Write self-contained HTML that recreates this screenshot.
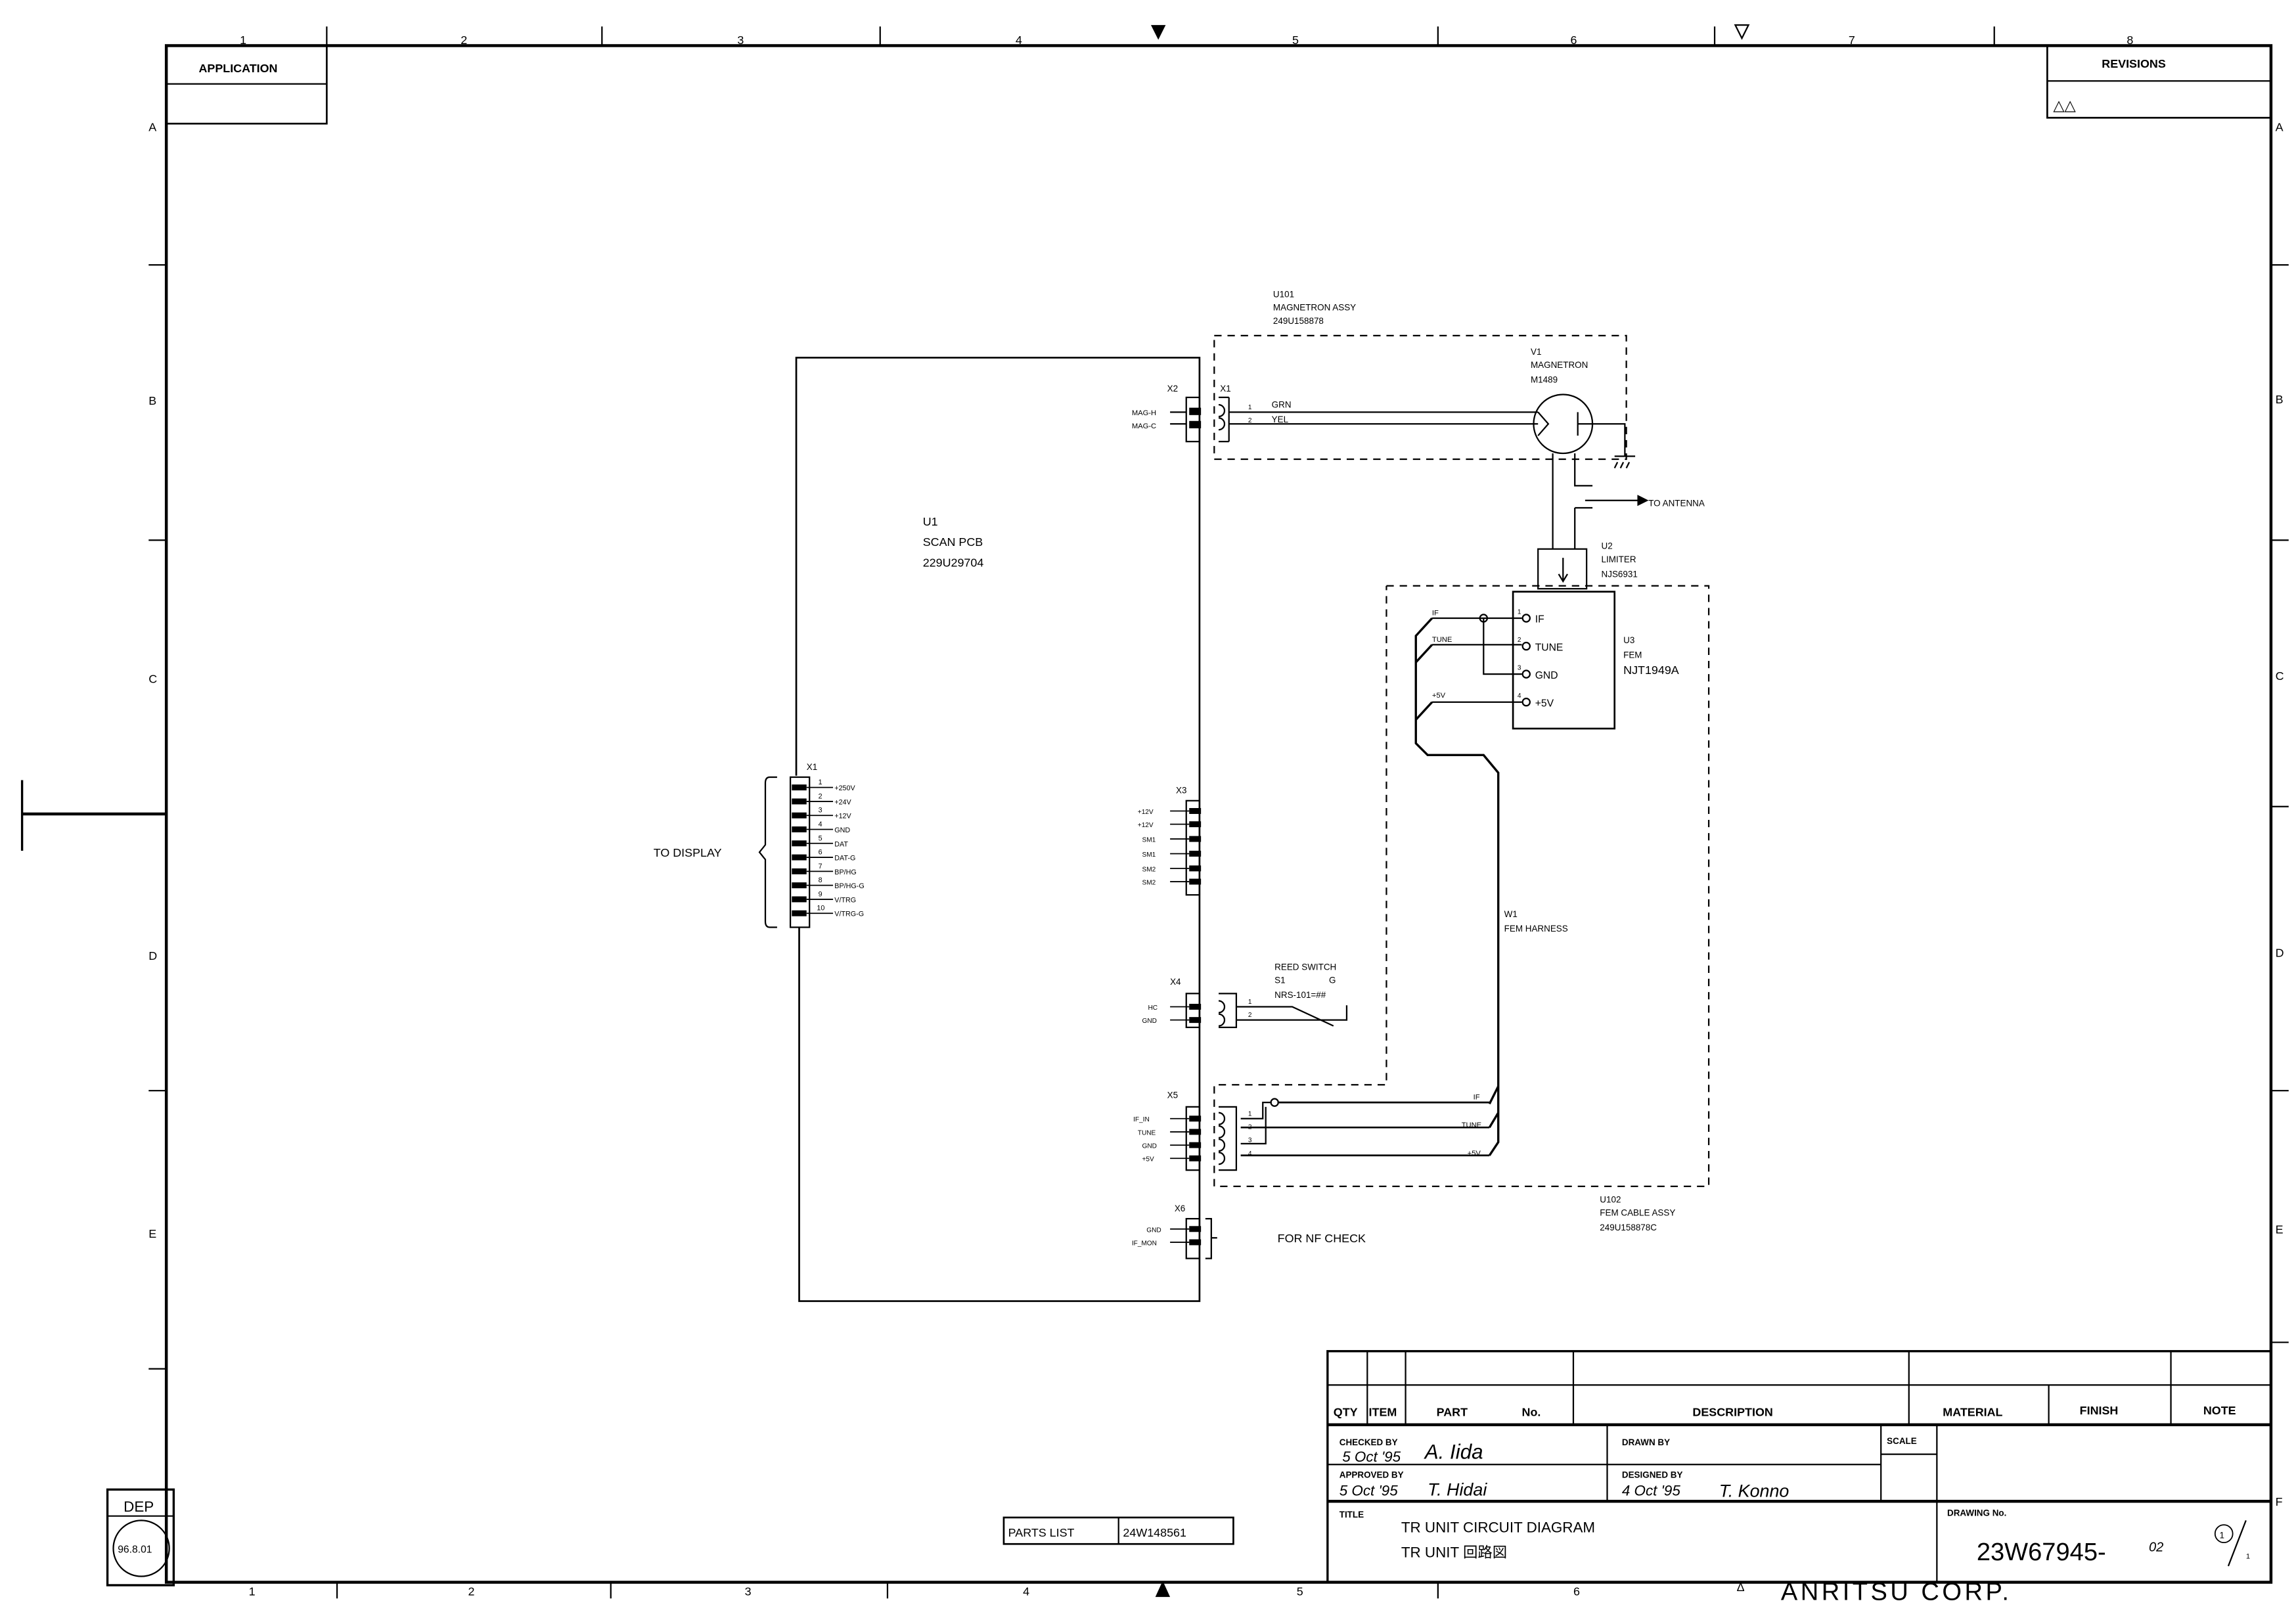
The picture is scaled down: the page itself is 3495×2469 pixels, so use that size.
<!DOCTYPE html>
<html><head><meta charset="utf-8"><style>
html,body{margin:0;padding:0;background:#fff}
svg{display:block}
text{font-family:"Liberation Sans",sans-serif;fill:#000}
.s{font-size:6px}
.m{font-size:8px}
.l{font-size:10px}
.b{font-weight:bold}
</style></head><body>
<svg width="3495" height="2469" viewBox="0 0 1560 1102" preserveAspectRatio="none" xmlns="http://www.w3.org/2000/svg">
<g fill="none" stroke="#000">
<!-- frame -->
<rect x="113" y="31" width="1430" height="1044" stroke-width="2"/>
<line x1="15" y1="553" x2="113" y2="553" stroke-width="2"/>
<line x1="15" y1="530" x2="15" y2="578" stroke-width="1.5"/>
<g stroke-width="1">
<line x1="101" y1="180" x2="113" y2="180"/><line x1="101" y1="367" x2="113" y2="367"/><line x1="101" y1="741" x2="113" y2="741"/><line x1="101" y1="930" x2="113" y2="930"/>
<line x1="1543" y1="180" x2="1555" y2="180"/><line x1="1543" y1="367" x2="1555" y2="367"/><line x1="1543" y1="548" x2="1555" y2="548"/><line x1="1543" y1="741" x2="1555" y2="741"/><line x1="1543" y1="912" x2="1555" y2="912"/>
<line x1="222" y1="18" x2="222" y2="31"/><line x1="409" y1="18" x2="409" y2="31"/><line x1="598" y1="18" x2="598" y2="31"/><line x1="977" y1="18" x2="977" y2="31"/><line x1="1165" y1="18" x2="1165" y2="31"/><line x1="1355" y1="18" x2="1355" y2="31"/>
<line x1="229" y1="1075" x2="229" y2="1086"/><line x1="415" y1="1075" x2="415" y2="1086"/><line x1="603" y1="1075" x2="603" y2="1086"/><line x1="977" y1="1075" x2="977" y2="1086"/>
</g>
<!-- application/revisions -->
<rect x="113" y="31" width="109" height="53" stroke-width="1.2"/><line x1="113" y1="57" x2="222" y2="57"/>
<rect x="1391" y="31" width="152" height="49" stroke-width="1.2"/><line x1="1391" y1="55" x2="1543" y2="55"/>
<!-- DEP -->
<rect x="73" y="1012" width="45" height="65" stroke-width="1.5"/><line x1="73" y1="1030" x2="118" y2="1030"/>
<circle cx="96" cy="1052" r="19"/>

<!-- U1 -->
<polyline points="541,527 541,243 815,243 815,884 543,884 543,630" stroke-width="1.2"/>
<!-- U101 dashed -->
<rect x="825" y="228" width="280" height="84" stroke-dasharray="5,4"/>
<!-- U102 dashed -->
<polyline points="942,398 1161,398 1161,806 825,806 825,737 942,737 942,398" stroke-dasharray="5,4"/>
</g>
<!-- top/bottom triangles -->
<polygon points="782,17 792,17 787,27" fill="#000"/>
<polygon points="1179,17 1188,17 1183.5,26" fill="none" stroke="#000"/>
<polygon points="785,1085 795,1085 790,1074" fill="#000"/>
<!-- text frame -->
<g class="m">
<text x="163" y="30">1</text><text x="313" y="30">2</text><text x="501" y="30">3</text><text x="690" y="30">4</text><text x="878" y="30">5</text><text x="1067" y="30">6</text><text x="1256" y="30">7</text><text x="1445" y="30">8</text>
<text x="169" y="1084">1</text><text x="318" y="1084">2</text><text x="506" y="1084">3</text><text x="695" y="1084">4</text><text x="881" y="1084">5</text><text x="1069" y="1084">6</text>
<text x="101" y="89">A</text><text x="101" y="275">B</text><text x="101" y="464">C</text><text x="101" y="652">D</text><text x="101" y="841">E</text>
<text x="1546" y="89">A</text><text x="1546" y="274">B</text><text x="1546" y="462">C</text><text x="1546" y="650">D</text><text x="1546" y="838">E</text><text x="1546" y="1023">F</text>
</g>
<text x="135" y="49" class="m b">APPLICATION</text>
<text x="1428" y="46" class="m b">REVISIONS</text>
<text x="1395" y="75" class="l">△△</text>
<text x="84" y="1027" class="l">DEP</text>
<text x="80" y="1055" style="font-size:7px">96.8.01</text>
<text x="1180" y="1081" class="m">Δ</text>
<text x="1210" y="1087" style="font-size:17px;letter-spacing:2px">ANRITSU CORP.</text>

<!-- labels -->
<g class="s">
<text x="865" y="202">U101</text><text x="865" y="211">MAGNETRON ASSY</text><text x="865" y="220">249U158878</text>
<text x="1040" y="241">V1</text><text x="1040" y="250">MAGNETRON</text><text x="1040" y="260">M1489</text>
<text x="1088" y="373">U2</text><text x="1088" y="382">LIMITER</text><text x="1088" y="392">NJS6931</text>
<text x="1103" y="437">U3</text><text x="1103" y="447">FEM</text><text x="1103" y="458" style="font-size:8px">NJT1949A</text>
<text x="1022" y="623">W1</text><text x="1022" y="633">FEM HARNESS</text>
<text x="1087" y="817">U102</text><text x="1087" y="826">FEM CABLE ASSY</text><text x="1087" y="836">249U158878C</text>
<text x="866" y="659">REED SWITCH</text><text x="866" y="668">S1</text><text x="903" y="668">G</text><text x="866" y="678">NRS-101=##</text>
<text x="864" y="277">GRN</text><text x="864" y="287">YEL</text>
<text x="1120" y="344">TO ANTENNA</text>
<text x="793" y="266">X2</text><text x="829" y="266">X1</text>
<text x="799" y="539">X3</text><text x="795" y="669">X4</text><text x="793" y="746">X5</text><text x="798" y="823">X6</text><text x="548" y="523">X1</text>
<text x="769" y="282" style="font-size:5px">MAG-H</text><text x="769" y="291" style="font-size:5px">MAG-C</text>
<text x="973" y="418" style="font-size:5px">IF</text><text x="973" y="436" style="font-size:5px">TUNE</text><text x="973" y="474" style="font-size:5px">+5V</text>
<text x="1001" y="747" style="font-size:5px">IF</text><text x="993" y="766" style="font-size:5px">TUNE</text><text x="997" y="785" style="font-size:5px">+5V</text>
</g>
<g class="m">
<text x="627" y="357">U1</text><text x="627" y="371">SCAN PCB</text><text x="627" y="385">229U29704</text>
<text x="444" y="582">TO DISPLAY</text>
<text x="868" y="844">FOR NF CHECK</text>
</g>
<g style="font-size:7px">
<text x="1043" y="423">IF</text><text x="1043" y="442">TUNE</text><text x="1043" y="461">GND</text><text x="1043" y="480">+5V</text>
</g>

<g fill="none" stroke="#000" stroke-width="1">
<!-- X2 -->
<rect x="806" y="270" width="9" height="30"/>
<path d="M828 270 H835 M828 300 H835 M835 270 V300 M828 275 a4 4 0 0 1 0 8 M828 284 a4 4 0 0 1 0 8"/>
<line x1="795" y1="280" x2="806" y2="280"/><line x1="795" y1="288" x2="806" y2="288"/>
<line x1="835" y1="280" x2="1045" y2="280"/><line x1="835" y1="288" x2="1045" y2="288"/>
<!-- magnetron -->
<circle cx="1062" cy="288" r="20"/>
<path d="M1045 280 L1052 288 L1045 296 M1072 280 V296 M1072 288 H1104 V310 M1097 310 H1111 M1099 314 L1097 318 M1103 314 L1101 318 M1107 314 L1105 318"/>
<path d="M1055 308 V373 M1070 308 V330 H1082 M1070 345 V373 M1070 345 H1082"/>
<line x1="1077" y1="340" x2="1113" y2="340"/>
<polygon points="1113,337 1119,340 1113,343" fill="#000"/>
<rect x="1045" y="373" width="33" height="27"/>
<path d="M1062 379 V394 M1059 390 L1062 395 L1065 390"/>
<!-- U3 -->
<rect x="1028" y="402" width="69" height="93" stroke-width="1.2"/>
<circle cx="1037" cy="420" r="2.5"/><circle cx="1037" cy="439" r="2.5"/><circle cx="1037" cy="458" r="2.5"/><circle cx="1037" cy="477" r="2.5"/>
<path d="M973 420 H1034 M973 438 H1034 M1008 420 V458 H1034 M973 477 H1034"/>
<circle cx="1008" cy="420" r="2.5"/>
<!-- harness -->
<path d="M973 420 L962 432 V505 L970 513 H1008 L1018 525 V738 L1012 750 M973 438 L962 450 M973 477 L962 489 M1018 738 L1018 756 L1012 766 M1018 756 V776 L1012 785" stroke-width="1.5"/>
<path d="M868 749 H1012 M843 766 H1012 M843 785 H1012" stroke-width="1.2"/>
<circle cx="866" cy="749" r="2.5"/>
<path d="M843 760 H858 V749 H864 M843 777 H860 V752"/>
<!-- X5 -->
<rect x="806" y="752" width="9" height="43"/>
<path d="M828 752 H840 V795 H828"/>
<path d="M828 756 a4 4 0 0 1 0 8 M828 765 a4 4 0 0 1 0 8 M828 774 a4 4 0 0 1 0 8 M828 783 a4 4 0 0 1 0 8"/>
<!-- X4 -->
<rect x="806" y="675" width="9" height="23"/>
<path d="M828 675 H840 V698 H828 M828 680 a4 4 0 0 1 0 8 M828 689 a4 4 0 0 1 0 8"/>
<path d="M840 684 H878 L906 697 M840 693 H915 V683"/>
<!-- X3 -->
<rect x="806" y="544" width="9" height="64"/>
<!-- X6 -->
<rect x="806" y="828" width="9" height="27"/>
<path d="M819 828 H823 V855 H819 M823 841 L827 841"/>
<!-- X1 U1 left -->
<rect x="537" y="528" width="13" height="102"/>
<path d="M528 528 H523 Q520 528 520 532 V574 L516 579 L520 584 V626 Q520 630 523 630 H528"/>
</g>
<!-- connector pins -->
<g fill="#000">
<rect x="808" y="277" width="8" height="5"/><rect x="808" y="286" width="8" height="5"/>
<rect x="808" y="549" width="8" height="4"/><rect x="808" y="558" width="8" height="4"/><rect x="808" y="568" width="8" height="4"/><rect x="808" y="578" width="8" height="4"/><rect x="808" y="588" width="8" height="4"/><rect x="808" y="597" width="8" height="4"/>
<rect x="808" y="682" width="8" height="4"/><rect x="808" y="691" width="8" height="4"/>
<rect x="808" y="758" width="8" height="4"/><rect x="808" y="767" width="8" height="4"/><rect x="808" y="776" width="8" height="4"/><rect x="808" y="785" width="8" height="4"/>
<rect x="808" y="833" width="8" height="4"/><rect x="808" y="842" width="8" height="4"/>
</g>
<g stroke="#000" stroke-width="0.8">
<line x1="795" y1="551" x2="808" y2="551"/><line x1="795" y1="560" x2="808" y2="560"/><line x1="795" y1="570" x2="808" y2="570"/><line x1="795" y1="580" x2="808" y2="580"/><line x1="795" y1="590" x2="808" y2="590"/><line x1="795" y1="599" x2="808" y2="599"/>
<line x1="795" y1="684" x2="808" y2="684"/><line x1="795" y1="693" x2="808" y2="693"/>
<line x1="795" y1="760" x2="808" y2="760"/><line x1="795" y1="769" x2="808" y2="769"/><line x1="795" y1="778" x2="808" y2="778"/><line x1="795" y1="787" x2="808" y2="787"/>
<line x1="795" y1="835" x2="808" y2="835"/><line x1="795" y1="844" x2="808" y2="844"/>
</g>
<g style="font-size:4.5px">
<text x="773" y="553">+12V</text><text x="773" y="562">+12V</text><text x="776" y="572">SM1</text><text x="776" y="582">SM1</text><text x="776" y="592">SM2</text><text x="776" y="601">SM2</text>
<text x="780" y="686">HC</text><text x="776" y="695">GND</text>
<text x="770" y="762">IF_IN</text><text x="773" y="771">TUNE</text><text x="776" y="780">GND</text><text x="776" y="789">+5V</text>
<text x="779" y="837">GND</text><text x="769" y="846">IF_MON</text>
<text x="848" y="278">1</text><text x="848" y="287">2</text><text x="848" y="682">1</text><text x="848" y="691">2</text>
<text x="848" y="758">1</text><text x="848" y="767">2</text><text x="848" y="776">3</text><text x="848" y="785">4</text>
<text x="1031" y="417">1</text><text x="1031" y="436">2</text><text x="1031" y="455">3</text><text x="1031" y="474">4</text>
</g>
<!-- X1 U1 pins -->
<g fill="#000">
<rect x="538" y="533" width="10" height="4"/><rect x="538" y="542.5" width="10" height="4"/><rect x="538" y="552" width="10" height="4"/><rect x="538" y="561.5" width="10" height="4"/><rect x="538" y="571" width="10" height="4"/><rect x="538" y="580.5" width="10" height="4"/><rect x="538" y="590" width="10" height="4"/><rect x="538" y="599.5" width="10" height="4"/><rect x="538" y="609" width="10" height="4"/><rect x="538" y="618.5" width="10" height="4"/>
</g>
<g stroke="#000" stroke-width="0.8">
<line x1="548" y1="535" x2="566" y2="535"/><line x1="548" y1="544.5" x2="566" y2="544.5"/><line x1="548" y1="554" x2="566" y2="554"/><line x1="548" y1="563.5" x2="566" y2="563.5"/><line x1="548" y1="573" x2="566" y2="573"/><line x1="548" y1="582.5" x2="566" y2="582.5"/><line x1="548" y1="592" x2="566" y2="592"/><line x1="548" y1="601.5" x2="566" y2="601.5"/><line x1="548" y1="611" x2="566" y2="611"/><line x1="548" y1="620.5" x2="566" y2="620.5"/>
</g>
<g style="font-size:4.8px">
<text x="567" y="537">+250V</text><text x="567" y="546.5">+24V</text><text x="567" y="556">+12V</text><text x="567" y="565.5">GND</text><text x="567" y="575">DAT</text><text x="567" y="584.5">DAT-G</text><text x="567" y="594">BP/HG</text><text x="567" y="603.5">BP/HG-G</text><text x="567" y="613">V/TRG</text><text x="567" y="622.5">V/TRG-G</text>
<text x="556" y="533">1</text><text x="556" y="542.5">2</text><text x="556" y="552">3</text><text x="556" y="561.5">4</text><text x="556" y="571">5</text><text x="556" y="580.5">6</text><text x="556" y="590">7</text><text x="556" y="599.5">8</text><text x="556" y="609">9</text><text x="555" y="618.5">10</text>
</g>

<!-- title block -->
<g fill="none" stroke="#000">
<rect x="902" y="918" width="641" height="157" stroke-width="1.5"/>
<line x1="902" y1="941" x2="1543" y2="941"/>
<line x1="902" y1="968" x2="1543" y2="968" stroke-width="2"/>
<line x1="902" y1="1020" x2="1543" y2="1020" stroke-width="2"/>
<line x1="902" y1="995" x2="1278" y2="995"/>
<line x1="929" y1="918" x2="929" y2="968"/><line x1="955" y1="918" x2="955" y2="968"/><line x1="1069" y1="918" x2="1069" y2="968"/><line x1="1297" y1="918" x2="1297" y2="968"/><line x1="1392" y1="941" x2="1392" y2="968"/><line x1="1475" y1="918" x2="1475" y2="968"/>
<line x1="1092" y1="968" x2="1092" y2="1020"/><line x1="1278" y1="968" x2="1278" y2="1020"/><line x1="1316" y1="968" x2="1316" y2="1075"/><line x1="1278" y1="988" x2="1316" y2="988"/>
<rect x="682" y="1031" width="156" height="18" stroke-width="1.2"/><line x1="760" y1="1031" x2="760" y2="1049"/>
<circle cx="1511" cy="1042" r="6" stroke-width="0.8"/><line x1="1526" y1="1033" x2="1514" y2="1064"/>
</g>
<g class="s b">
<text x="906" y="962" style="font-size:8px">QTY</text><text x="930" y="962" style="font-size:8px">ITEM</text><text x="976" y="962" style="font-size:8px">PART</text><text x="1034" y="962" style="font-size:8px">No.</text>
<text x="1150" y="962" style="font-size:8px">DESCRIPTION</text><text x="1320" y="962" style="font-size:8px">MATERIAL</text><text x="1413" y="961" style="font-size:8px">FINISH</text><text x="1497" y="961" style="font-size:8px">NOTE</text>
<text x="910" y="982">CHECKED BY</text><text x="1102" y="982">DRAWN BY</text><text x="1282" y="981">SCALE</text>
<text x="910" y="1004">APPROVED BY</text><text x="1102" y="1004">DESIGNED BY</text>
<text x="910" y="1031">TITLE</text><text x="1323" y="1030">DRAWING No.</text>
</g>
<g style="font-size:10px;font-style:italic;font-family:'Liberation Serif',serif">
<text x="912" y="993">5 Oct '95</text><text x="968" y="991" style="font-size:14px">A. Iida</text>
<text x="910" y="1016">5 Oct '95</text><text x="970" y="1016" style="font-size:12px">T. Hidai</text>
<text x="1102" y="1016">4 Oct '95</text><text x="1168" y="1017" style="font-size:12px">T. Konno</text>
</g>
<text x="952" y="1041" class="l">TR UNIT CIRCUIT DIAGRAM</text>
<text x="952" y="1058" style="font-size:10px;font-family:'Liberation Sans','Noto Sans CJK JP',sans-serif">TR UNIT 回路図</text>
<text x="1343" y="1060" style="font-size:17px">23W67945-</text><text x="1460" y="1054" style="font-size:9px;font-style:italic">02</text>
<text x="1508" y="1045" style="font-size:6px">1</text><text x="1526" y="1059" style="font-size:5px">1</text>
<text x="685" y="1044" class="m">PARTS LIST</text><text x="763" y="1044" class="m">24W148561</text>
</svg>
</body></html>
